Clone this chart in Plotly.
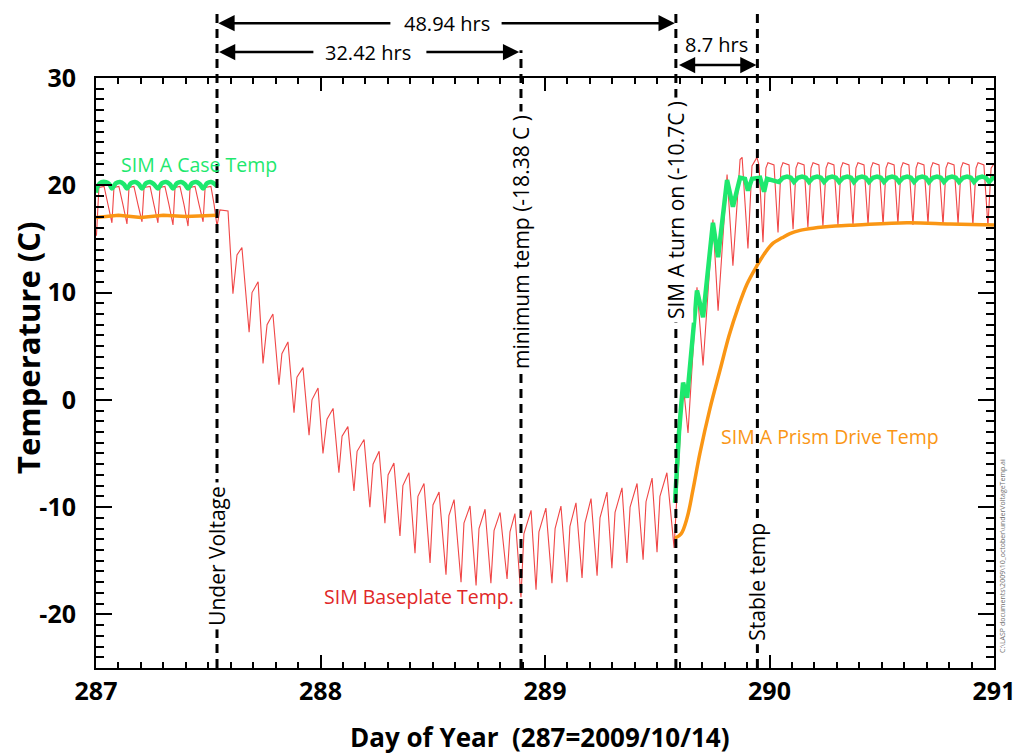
import plotly.graph_objects as go

# ---------------- data (day of year, temperature C) ----------------
base_day = [
    287.002, 287.013, 287.036, 287.053, 287.071, 287.080, 287.102, 287.120, 287.138, 287.147,
    287.169, 287.187, 287.205, 287.214, 287.241, 287.258, 287.276, 287.285, 287.307, 287.325,
    287.343, 287.352, 287.374, 287.392, 287.410, 287.419, 287.441, 287.459, 287.477, 287.486,
    287.512, 287.526, 287.539, 287.552, 287.588,
    287.610, 287.628, 287.650, 287.682, 287.695, 287.722, 287.744, 287.762, 287.788, 287.815,
    287.828, 287.855, 287.882, 287.895, 287.922, 287.949, 287.962, 287.989, 288.011, 288.029,
    288.056, 288.082, 288.096, 288.122, 288.149, 288.163, 288.194, 288.220, 288.234, 288.261,
    288.287, 288.301, 288.327, 288.354, 288.367, 288.394, 288.421, 288.434, 288.461, 288.488,
    288.501, 288.528, 288.559, 288.572, 288.595, 288.626, 288.639, 288.666, 288.693, 288.706,
    288.733, 288.759, 288.773, 288.800, 288.831, 288.844, 288.866, 288.893, 288.906, 288.938,
    288.960, 288.973, 289.004, 289.031, 289.045, 289.071, 289.098, 289.111, 289.138, 289.165,
    289.178, 289.205, 289.232, 289.245, 289.276, 289.298, 289.312, 289.343, 289.365, 289.379,
    289.410, 289.437, 289.450, 289.477, 289.499, 289.512, 289.543, 289.575,
    289.615, 289.637, 289.677, 289.704, 289.748, 289.771, 289.811, 289.837, 289.869, 289.878,
    289.904, 289.922, 289.944, 289.953, 289.971,
    289.984, 289.993, 290.020, 290.038, 290.051, 290.060, 290.087, 290.105, 290.118, 290.127,
    290.154, 290.171, 290.185, 290.194, 290.220, 290.238, 290.252, 290.261, 290.287, 290.305,
    290.318, 290.327, 290.354, 290.372, 290.385, 290.394, 290.421, 290.439, 290.452, 290.461,
    290.488, 290.506, 290.519, 290.528, 290.555, 290.572, 290.586, 290.595, 290.621, 290.639,
    290.653, 290.661, 290.688, 290.706, 290.719, 290.728, 290.755, 290.773, 290.786, 290.795,
    290.822, 290.840, 290.853, 290.862, 290.889, 290.906, 290.920, 290.929, 290.955, 290.973,
    290.987, 291.000,
]
base_temp = [
    15.3, 19.8, 19.9, 18.2, 16.5, 19.8, 19.9, 18.2, 16.4, 19.8,
    19.9, 18.2, 16.6, 19.8, 19.9, 18.2, 16.5, 19.8, 19.9, 18.2,
    16.3, 19.8, 19.9, 18.2, 16.2, 19.8, 19.9, 18.2, 16.6, 19.8,
    19.9, 18.2, 16.2, 17.7, 17.6,
    9.9, 13.5, 14.2, 6.3, 10.0, 11.0, 3.4, 7.0, 8.0, 1.4,
    4.3, 5.4, -1.2, 2.1, 3.0, -3.3, 0.0, 1.1, -5.0, -1.8,
    -0.8, -6.8, -3.4, -2.5, -8.5, -4.8, -3.7, -10.0, -6.0, -4.8,
    -11.5, -7.0, -5.9, -12.7, -8.0, -6.8, -14.3, -9.0, -7.8, -15.2,
    -9.8, -8.6, -16.3, -10.8, -9.3, -17.0, -11.5, -9.9, -17.3, -12.0,
    -10.2, -17.1, -12.2, -10.5, -16.7, -12.3, -10.6, -18.4, -12.5, -10.3,
    -17.7, -12.3, -10.1, -17.1, -12.0, -9.9, -17.0, -11.8, -9.6, -16.6,
    -11.5, -9.2, -16.4, -11.0, -8.6, -15.7, -10.5, -8.2, -15.2, -10.0,
    -7.8, -14.9, -9.5, -7.3, -14.2, -9.0, -6.8, -13.8,
    1.6, -3.1, 10.5, 3.2, 16.8, 8.3, 21.0, 12.5, 22.4, 22.6,
    14.1, 21.8, 22.6, 21.9, 14.7,
    21.6, 22.1, 21.9, 15.6, 21.6, 22.1, 21.9, 15.9, 21.6, 22.1,
    21.9, 16.1, 21.6, 22.1, 21.9, 16.2, 21.6, 22.1, 21.9, 16.3,
    21.6, 22.1, 21.9, 16.3, 21.6, 22.1, 21.9, 16.3, 21.6, 22.1,
    21.9, 16.3, 21.6, 22.1, 21.9, 16.4, 21.6, 22.1, 21.9, 16.3,
    21.6, 22.1, 21.9, 16.4, 21.6, 22.1, 21.9, 16.3, 21.6, 22.1,
    21.9, 16.4, 21.6, 22.1, 21.9, 16.3, 21.6, 22.1, 21.9, 16.2,
    21.6, 22.0,
]

case_day_pre = [
    287.000, 287.007, 287.025, 287.045, 287.060, 287.071,
    287.089, 287.107, 287.124, 287.138, 287.156, 287.174, 287.191, 287.205,
    287.223, 287.241, 287.258, 287.276, 287.294, 287.312, 287.329, 287.343,
    287.361, 287.379, 287.396, 287.410, 287.428, 287.446, 287.463, 287.477,
    287.495, 287.513, 287.530, 287.539,
]
case_temp_pre = [
    19.3, 19.9, 20.3, 20.3, 20.1, 19.7,
    20.2, 20.3, 20.1, 19.7, 20.2, 20.3, 20.1, 19.7,
    20.2, 20.3, 20.1, 19.7, 20.2, 20.3, 20.1, 19.7,
    20.2, 20.3, 20.1, 19.7, 20.2, 20.3, 20.1, 19.7,
    20.2, 20.3, 20.1, 19.9,
]
case_day_post = [
    289.579, 289.597, 289.615, 289.633, 289.677, 289.704, 289.748, 289.771, 289.811,
    289.837, 289.869, 289.891, 289.904, 289.922, 289.958, 289.976, 289.989,
    290.042, 290.060, 290.078, 290.095, 290.109, 290.127, 290.145, 290.162,
    290.176, 290.194, 290.212, 290.229, 290.243, 290.261, 290.279, 290.296,
    290.310, 290.328, 290.346, 290.363, 290.376, 290.394, 290.412, 290.429,
    290.443, 290.461, 290.479, 290.496, 290.510, 290.528, 290.546, 290.563,
    290.577, 290.595, 290.613, 290.630, 290.644, 290.662, 290.680, 290.697,
    290.710, 290.728, 290.746, 290.763, 290.777, 290.795, 290.813, 290.830,
    290.844, 290.862, 290.880, 290.897, 290.911, 290.929, 290.947, 290.964,
    290.978, 290.996, 291.000,
]
case_temp_post = [
    -9.6, -3.0, 1.6, 0.2, 10.2, 7.7, 16.5, 13.3, 20.5,
    18.0, 20.7, 20.6, 19.5, 20.6, 20.7, 19.4, 20.6,
    20.3, 20.7, 20.8, 20.7, 20.3, 20.7, 20.8, 20.7,
    20.3, 20.7, 20.8, 20.7, 20.3, 20.7, 20.8, 20.7,
    20.3, 20.7, 20.8, 20.7, 20.3, 20.7, 20.8, 20.7,
    20.3, 20.7, 20.8, 20.7, 20.3, 20.7, 20.8, 20.7,
    20.3, 20.7, 20.8, 20.7, 20.3, 20.7, 20.8, 20.7,
    20.3, 20.7, 20.8, 20.7, 20.3, 20.7, 20.8, 20.7,
    20.3, 20.7, 20.8, 20.7, 20.3, 20.7, 20.8, 20.7,
    20.3, 20.7, 20.7,
]

prism_day_pre = [287.000, 287.100, 287.200, 287.300, 287.400, 287.500, 287.539]
prism_temp_pre = [17.0, 17.2, 17.0, 17.2, 17.1, 17.2, 17.2]
prism_day_post = [289.579, 289.606, 289.633, 289.659, 289.690, 289.735, 289.780, 289.820, 289.860,
                  289.900, 289.944, 289.980, 290.016, 290.056, 290.091, 290.136, 290.194, 290.292,
                  290.390, 290.612, 290.804, 291.000]
prism_temp_post = [-12.9, -12.5, -11.0, -8.4, -5.0, -0.8, 2.8, 6.0, 8.6,
                   10.8, 12.5, 13.7, 14.6, 15.1, 15.5, 15.8, 16.0, 16.2,
                   16.3, 16.5, 16.4, 16.3]

event_days = [287.539, 288.893, 289.583, 289.946]
event_labels = ["Under Voltage", "minimum temp (-18.38 C )", "SIM A turn on (-10.7C )", "Stable temp"]

x_ticks = [287, 288, 289, 290, 291]
y_ticks = [-20, -10, 0, 10, 20, 30]

RED = "rgb(240,70,70)"
GREEN = "rgb(30,232,110)"
ORANGE = "rgb(250,150,20)"
FONT = "Open Sans"

fig = go.Figure()
fig.add_trace(go.Scatter(x=base_day, y=base_temp, mode="lines",
                         line=dict(color=RED, width=1.1), name="SIM Baseplate Temp."))
fig.add_trace(go.Scatter(x=prism_day_pre, y=prism_temp_pre, mode="lines",
                         line=dict(color=ORANGE, width=3.5), name="SIM A Prism Drive Temp"))
fig.add_trace(go.Scatter(x=prism_day_post, y=prism_temp_post, mode="lines",
                         line=dict(color=ORANGE, width=3.5, shape="spline"), showlegend=False))
fig.add_trace(go.Scatter(x=case_day_pre, y=case_temp_pre, mode="lines",
                         line=dict(color=GREEN, width=4.5, shape="spline"), name="SIM A Case Temp"))
fig.add_trace(go.Scatter(x=case_day_post, y=case_temp_post, mode="lines",
                         line=dict(color=GREEN, width=4.5), showlegend=False))

# dashed event lines
tops = [1.115, 1.047, 1.115, 1.115]
for d, t in zip(event_days, tops):
    fig.add_shape(type="line", xref="x", yref="paper", x0=d, x1=d, y0=0, y1=t,
                  line=dict(color="black", width=3, dash="9px,6px"), layer="above")

# vertical labels on the event lines
label_y = [0.19, 0.722, 0.776, 0.147]
for d, lab, yy in zip(event_days, event_labels, label_y):
    fig.add_annotation(x=d, y=yy, xref="x", yref="paper", text=lab, textangle=-90,
                       showarrow=False, bgcolor="white", borderpad=3,
                       xanchor="center", yanchor="middle",
                       font=dict(family=FONT, size=21, color="black"))

# duration arrows
def harrow(tip, tail, yy, both=False):
    fig.add_annotation(x=tip, y=yy, xref="x", yref="paper", ax=tail, ay=0, axref="x",
                       ayref="pixel", showarrow=True, text="", arrowhead=2, arrowsize=1.3,
                       arrowwidth=2.5, arrowcolor="black",
                       arrowside="end+start" if both else "end")

def label(x, y, text, size, color, xref="x", yref="paper", angle=0):
    fig.add_annotation(x=x, y=y, xref=xref, yref=yref, text=text, showarrow=False,
                       textangle=angle, xanchor="center", yanchor="middle",
                       font=dict(family=FONT, size=size, color=color))

harrow(287.545, 288.318, 1.093)
harrow(289.578, 288.800, 1.093)
label(288.563, 1.093, "48.94 hrs", 20, "black")
harrow(287.548, 287.975, 1.044)
harrow(288.885, 288.465, 1.044)
label(288.21, 1.044, "32.42 hrs", 20, "black")
harrow(289.942, 289.590, 1.022, both=True)
label(289.766, 1.056, "8.7 hrs", 20, "black")

# series labels
label(287.46, 21.9, "SIM A Case Temp", 19.5, GREEN, yref="y")
label(290.27, -3.4, "SIM A Prism Drive Temp", 19.5, ORANGE, yref="y")
label(288.44, -18.3, "SIM Baseplate Temp.", 19.5, "rgb(225,40,40)", yref="y")

# axis titles and file path note
label(-0.076, 0.542, "<b>Temperature (C)</b>", 31, "black", xref="paper", angle=-90)
label(0.494, -0.117, "<b>Day of Year  (287=2009/10/14)</b>", 26, "black", xref="paper")
label(1.010, 0.19, "C:\\LASP documents\\2009\\10_october\\underVoltageTemp.ai", 7,
      "rgb(110,110,110)", xref="paper", angle=-90)

fig.update_xaxes(range=[287, 291], tickvals=x_ticks, ticktext=[str(v) for v in x_ticks],
                 showline=True, linecolor="black", linewidth=2, mirror="allticks",
                 ticks="inside", ticklen=13, tickwidth=2, tickcolor="black",
                 minor=dict(dtick=0.1, ticks="inside", ticklen=6, tickwidth=1.5, tickcolor="black"),
                 showgrid=False, zeroline=False, ticklabeloverflow="allow",
                 tickfont=dict(family=FONT, size=25, color="black", weight="bold"))
fig.update_yaxes(range=[-25, 30], tickvals=y_ticks, ticktext=[str(v) for v in y_ticks],
                 showline=True, linecolor="black", linewidth=2, mirror="allticks",
                 ticks="inside", ticklen=16, tickwidth=2, tickcolor="black",
                 minor=dict(dtick=1, ticks="inside", ticklen=8, tickwidth=1.5, tickcolor="black"),
                 showgrid=False, zeroline=False, ticklabelstandoff=13, ticklabeloverflow="allow",
                 tickfont=dict(family=FONT, size=25, color="black", weight="bold"))

fig.update_layout(width=1014, height=754, showlegend=False,
                  margin=dict(l=96, r=20, t=78, b=86, autoexpand=False),
                  paper_bgcolor="white", plot_bgcolor="white",
                  font=dict(family=FONT))

# remove the page's default body margin so the figure fills the window exactly
fig.write_html("out.html", config={"displayModeBar": False},
               post_script="document.body.style.margin='0';document.body.style.overflow='hidden';")
